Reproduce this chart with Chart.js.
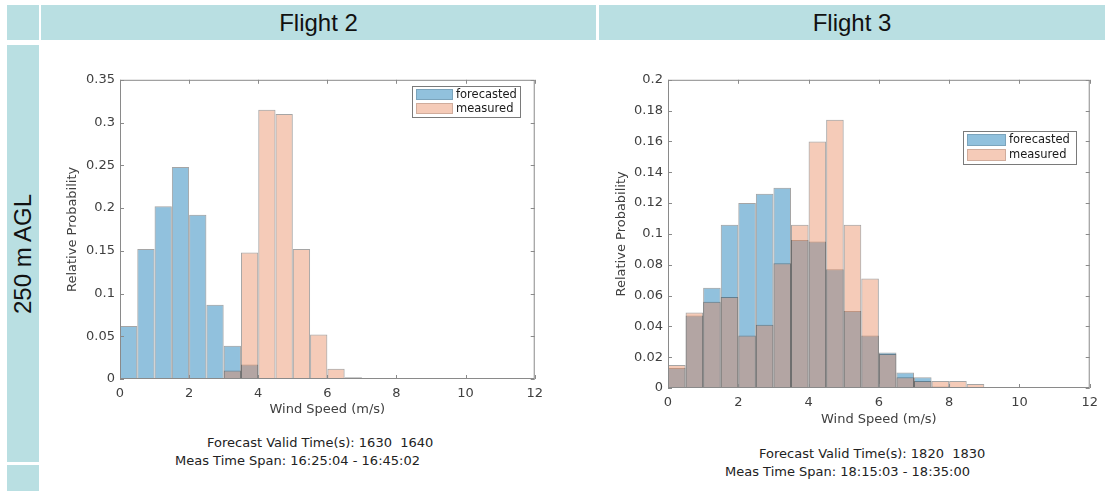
<!DOCTYPE html>
<html>
<head>
<meta charset="utf-8">
<script src="https://cdn.jsdelivr.net/npm/chart.js@4.4.0/dist/chart.umd.min.js"></script>
<style>
  body { margin: 0; width: 1105px; height: 491px; background: #fff; position: relative; overflow: hidden;
         font-family: 'Liberation Sans', Arial, sans-serif; }
  .cell { position: absolute; background: #b9dfe2; }
  .head { font-size: 24px; color: #111; display: flex; align-items: center; justify-content: center; }
  .side { display: flex; align-items: center; justify-content: center; }
  .side span { transform: rotate(-90deg); white-space: nowrap; font-size: 24px; color: #111; }
  canvas { position: absolute; }
  .note { position: absolute; font: 13px 'DejaVu Sans', sans-serif; color: #222; white-space: pre; }
</style>
</head>
<body>

<div class="cell" style="left:7px;top:5px;width:32px;height:35px"></div>
<div class="cell head" style="left:41px;top:5px;width:555px;height:35px">Flight 2</div>
<div class="cell head" style="left:599px;top:5px;width:506px;height:35px">Flight 3</div>
<div class="cell side" style="left:7px;top:45px;width:32px;height:417px"><span>250 m AGL</span></div>
<div class="cell" style="left:7px;top:465px;width:32px;height:26px"></div>

<canvas id="flight2" width="490" height="355" style="left:60px;top:67px"></canvas>
<canvas id="flight3" width="496" height="365" style="left:609px;top:67px"></canvas>

<div class="note" style="left:207px;top:435px">Forecast Valid Time(s): 1630  1640</div>
<div class="note" style="left:175px;top:453px">Meas Time Span: 16:25:04 - 16:45:02</div>
<div class="note" style="left:759px;top:446px">Forecast Valid Time(s): 1820  1830</div>
<div class="note" style="left:725px;top:464px">Meas Time Span: 18:15:03 - 18:35:00</div>

<script>
// histogram bins are 0.5 m/s wide starting at 0
const binWidth = 0.5;
const xTicks = [0, 2, 4, 6, 8, 10, 12];

// flight 2 relative probabilities per bin
const f2Forecast = [0.062, 0.152, 0.202, 0.248, 0.192, 0.087, 0.039, 0.017];
const f2Measured = [null, null, null, null, null, null, 0.010, 0.148, 0.315, 0.310, 0.152, 0.052, 0.012, 0.002];
const f2YTicks = [0, 0.05, 0.1, 0.15, 0.2, 0.25, 0.3, 0.35];

// flight 3 relative probabilities per bin
const f3Forecast = [0.013, 0.047, 0.065, 0.106, 0.120, 0.126, 0.130, 0.096, 0.095, 0.077, 0.050, 0.034,
                    0.023, 0.010, 0.007, 0.001];
const f3Measured = [0.015, 0.049, 0.056, 0.059, 0.034, 0.041, 0.081, 0.106, 0.160, 0.174, 0.106, 0.071,
                    0.022, 0.007, 0.0045, 0.0045, 0.0045, 0.0026];
const f3YTicks = [0, 0.02, 0.04, 0.06, 0.08, 0.1, 0.12, 0.14, 0.16, 0.18, 0.2];

const blueFill = 'rgba(10,118,180,0.45)';
const salmonFill = 'rgba(230,125,78,0.4)';
const edge = 'rgba(30,30,30,0.4)';

Chart.defaults.font.family = "'DejaVu Sans', sans-serif";
Chart.defaults.font.size = 13;
Chart.defaults.color = '#404040';

function toBins(vals) {
  return vals.map((v, i) => ({ x: (i + 0.5) * binWidth, y: v }));
}

// axes box with inward ticks on all four sides
const frameBox = {
  id: 'frameBox',
  afterDatasetsDraw(chart) {
    const { ctx, chartArea: a, scales: { x, y } } = chart;
    const len = 4;
    ctx.save();
    ctx.strokeStyle = '#8a8a8a';
    ctx.lineWidth = 1;
    ctx.strokeRect(a.left + 0.5, a.top + 0.5, a.width - 1, a.height - 1);
    ctx.beginPath();
    x.ticks.forEach(t => {
      const px = Math.round(x.getPixelForValue(t.value)) + 0.5;
      ctx.moveTo(px, a.bottom); ctx.lineTo(px, a.bottom - len);
      ctx.moveTo(px, a.top); ctx.lineTo(px, a.top + len);
    });
    y.ticks.forEach(t => {
      const py = Math.round(y.getPixelForValue(t.value)) + 0.5;
      ctx.moveTo(a.left, py); ctx.lineTo(a.left + len, py);
      ctx.moveTo(a.right, py); ctx.lineTo(a.right - len, py);
    });
    ctx.stroke();
    ctx.restore();
  }
};

// legend drawn as a framed box inside the plot
const boxLegend = {
  id: 'boxLegend',
  afterDraw(chart, args, opts) {
    const { ctx, chartArea: a } = chart;
    const sets = chart.data.datasets;
    const w = opts.width, row = opts.row;
    const h = row * sets.length + 3;
    const x0 = Math.round(a.right - opts.right - w), y0 = Math.round(a.top + opts.top);
    ctx.save();
    ctx.fillStyle = '#fff';
    ctx.fillRect(x0, y0, w, h);
    ctx.strokeStyle = '#7a7a7a';
    ctx.lineWidth = 1;
    ctx.strokeRect(x0 + 0.5, y0 + 0.5, w, h);
    ctx.font = "11.5px 'DejaVu Sans', sans-serif";
    ctx.textBaseline = 'middle';
    sets.forEach((ds, i) => {
      const sy = y0 + 3 + i * row;
      ctx.fillStyle = ds.backgroundColor;
      ctx.fillRect(x0 + 4, sy, opts.swatch, row - 3);
      ctx.strokeStyle = 'rgba(0,0,0,0.15)';
      ctx.strokeRect(x0 + 4.5, sy + 0.5, opts.swatch - 1, row - 4);
      ctx.fillStyle = '#1a1a1a';
      ctx.fillText(ds.label, x0 + opts.swatch + 7, sy + (row - 3) / 2 + 0.5);
    });
    ctx.restore();
  }
};

function histChart(id, forecast, measured, yTicks, yMax, cfg) {
  return new Chart(document.getElementById(id), {
    type: 'bar',
    data: {
      datasets: [
        { label: 'forecasted', data: toBins(forecast), backgroundColor: blueFill, borderColor: edge,
          borderWidth: 1, borderSkipped: false, inflateAmount: 0, order: 1 },
        { label: 'measured', data: toBins(measured), backgroundColor: salmonFill, borderColor: edge,
          borderWidth: 1, borderSkipped: false, inflateAmount: 0, order: 0 }
      ]
    },
    options: {
      responsive: false,
      animation: false,
      grouped: false,
      barPercentage: 1,
      categoryPercentage: 1,
      layout: { padding: cfg.padding },
      scales: {
        x: {
          type: 'linear', min: 0, max: 12, offset: false,
          grid: { display: false, drawTicks: false },
          border: { display: false },
          afterBuildTicks: s => { s.ticks = xTicks.map(v => ({ value: v })); },
          ticks: { padding: 7, maxRotation: 0 },
          title: { display: true, text: 'Wind Speed (m/s)', padding: 0 },
          afterFit: s => { s.height = cfg.xHeight; }
        },
        y: {
          min: 0, max: yMax,
          grid: { display: false, drawTicks: false },
          border: { display: false },
          afterBuildTicks: s => { s.ticks = yTicks.map(v => ({ value: v })); },
          ticks: { padding: 5, callback: v => String(v) },
          title: { display: true, text: 'Relative Probability', padding: 0 },
          afterFit: s => { s.width = cfg.yWidth; }
        }
      },
      plugins: {
        legend: { display: false },
        tooltip: { enabled: false },
        boxLegend: cfg.legend
      }
    },
    plugins: [frameBox, boxLegend]
  });
}

histChart('flight2', f2Forecast, f2Measured, f2YTicks, 0.35, {
  padding: { left: 5, top: 10, right: 15, bottom: 5 },
  xHeight: 38, yWidth: 55,
  legend: { width: 108, row: 14, swatch: 37, right: 15, top: 6 }
});

histChart('flight3', f3Forecast, f3Measured, f3YTicks, 0.2, {
  padding: { left: 5, top: 10, right: 10, bottom: 5 },
  xHeight: 39, yWidth: 54,
  legend: { width: 113, row: 15, swatch: 39, right: 14, top: 51 }
});
</script>
</body>
</html>
